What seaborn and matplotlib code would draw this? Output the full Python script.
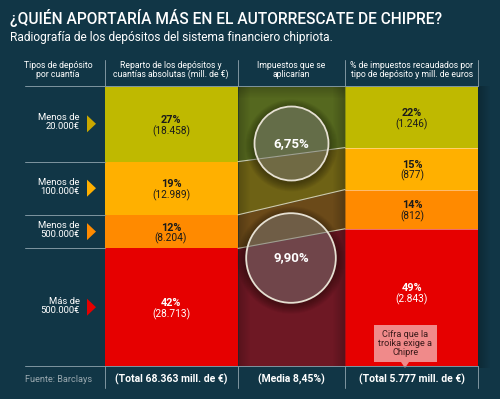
import numpy as np
import pandas as pd
import matplotlib.pyplot as plt
import seaborn as sns
from matplotlib.patches import Circle, Polygon

sns.set_theme(style="white")
plt.rcParams['font.family'] = ['Roboto', 'DejaVu Sans']

# data
tramos = ['Menos de\n20.000€', 'Menos de\n100.000€', 'Menos de\n500.000€', 'Más de\n500.000€']
reparto_pct = [27, 19, 12, 42]
reparto_abs = ['18.458', '12.989', '8.204', '28.713']
recaudado_pct = [22, 15, 14, 49]
recaudado_abs = ['1.246', '877', '812', '2.843']
impuestos = ['6,75%', '9,90%']
impuestos_val = [6.75, 9.90]

colores = ['#bfb900', '#ffb000', '#ff8a00', '#e60000']
colores_osc = ['#55681f', '#6e6215', '#6b4a19', '#6e1824']
flechas = ['#c9a800', '#ffb000', '#ff8a00', '#e60000']
bg = '#113646'

df = pd.DataFrame({'tramo': tramos, 'reparto': reparto_pct, 'recaudado': recaudado_pct})
df['rep_fin'] = df['reparto'].cumsum()
df['rep_ini'] = df['rep_fin'] - df['reparto']
df['rec_fin'] = df['recaudado'].cumsum()
df['rec_ini'] = df['rec_fin'] - df['recaudado']

fig = plt.figure(figsize=(5, 3.99), dpi=100, facecolor=bg)

# pixel overlay axes for the decoration
ov = fig.add_axes([0, 0, 1, 1], zorder=0)
ov.set_xlim(0, 500)
ov.set_ylim(399, 0)
ov.axis('off')
ov.set_facecolor(bg)

# chart area: x in pixels, y in percent
ax = fig.add_axes([105 / 500, 1 - 366 / 399, 373 / 500, 280 / 399], zorder=1)
ax.set_xlim(105, 478)
ax.set_ylim(100, 0)
ax.axis('off')
ax.patch.set_alpha(0)

# shadow on the right
for i in range(12):
    ov.add_patch(plt.Rectangle((478 + i, 86), 1, 282, color='black', alpha=0.03 * (12 - i) / 1.5, lw=0))

# column 1: reparto de los depositos
ax.bar(105, df['reparto'], bottom=df['rep_ini'], width=133, align='edge', color=colores, lw=0)
# column 3: recaudado
ax.bar(345, df['recaudado'], bottom=df['rec_ini'], width=133, align='edge', color=colores, lw=0)

# middle column: bands connecting both
for i, r in df.iterrows():
    ax.fill_between([238, 345], [r['rep_ini'], r['rec_ini']], [r['rep_fin'], r['rec_fin']],
                    color=colores_osc[i], lw=0)
for i, r in df.iloc[:-1].iterrows():
    ax.plot([238, 345], [r['rep_fin'], r['rec_fin']], color='#e8e4d0', lw=0.8, alpha=0.8)
    ax.plot([345, 478], [r['rec_fin'], r['rec_fin']], color='#ffffff', lw=0.6, alpha=0.5)

# edge shading in middle column
for i in range(12):
    a = 0.2 * (12 - i) / 12
    ax.fill_between([238 + i, 239 + i], 0, 100, color='black', alpha=a, lw=0)
    ax.fill_between([344 - i, 345 - i], 0, 100, color='black', alpha=a, lw=0)
    ax.fill_between([238, 345], i * 0.36, (i + 1) * 0.36, color='black', alpha=a, lw=0)

# overlay on top of the chart for texts
top = fig.add_axes([0, 0, 1, 1], zorder=2)
top.set_xlim(0, 500)
top.set_ylim(399, 0)
top.axis('off')
top.patch.set_alpha(0)

# circles with tax rates
centros = [(291.5, 143.5), (291, 258)]
r0 = 37 / np.sqrt(impuestos_val[0])
for (cx, cy), v, t in zip(centros, impuestos_val, impuestos):
    rad = r0 * np.sqrt(v)
    for k in range(9):
        top.add_patch(Circle((cx, cy + 2), rad + 9 - k, color='black', alpha=0.045, lw=0))
    top.add_patch(Circle((cx, cy), rad, facecolor=(1, 1, 1, 0.23), edgecolor='#e6e0d2', lw=1.3))
    top.text(cx, cy, t, color='white', fontsize=9.5, fontweight='bold', ha='center', va='center')

# titles
top.text(10, 18, '¿QUIÉN APORTARÍA MÁS EN EL AUTORRESCATE DE CHIPRE?', color='white',
         fontsize=11.2, fontweight='medium', va='center', ha='left')
top.text(10, 37, 'Radiografía de los depósitos del sistema financiero chipriota.', color='white',
         fontsize=8.6, va='center', ha='left')

# headers
cabeceras = ['Tipos de depósito\npor cuantía', 'Reparto de los depósitos y\ncuantías absolutas (mill. de €)',
             'Impuestos que se\naplicarían', '% de impuestos recaudados por\ntipo de depósito y mill. de euros']
cab_x = [58, 171, 291, 412]
for x, t in zip(cab_x, cabeceras):
    top.text(x, 70, t, color='white', fontsize=6.2, ha='center', va='center', linespacing=0.95)
for x in [105, 238, 345, 478]:
    top.plot([x, x], [60, 86], color='#7f95a0', lw=0.7)
    top.plot([x, x], [366, 388], color='#7f95a0', lw=0.7)
top.plot([25, 478], [86, 86], color='#7f95a0', lw=0.7)
top.plot([25, 478], [366, 366], color='#7f95a0', lw=0.7)

# row labels and arrows
for i, r in df.iterrows():
    yc = 86 + 2.8 * (r['rep_ini'] + r['rep_fin']) / 2
    top.text(80, yc - 1.5, r['tramo'], color='white', fontsize=6.8, ha='right', va='center', linespacing=0.95)
    top.add_patch(Polygon([[87, yc - 8.5], [87, yc + 8.5], [96, yc]], closed=True, color=flechas[i], lw=0))
    if i < 3:
        yb = 86 + 2.8 * r['rep_fin']
        top.plot([25, 105], [yb, yb], color='#7f95a0', lw=0.7)

# values in columns
for i, r in df.iterrows():
    c = 'white' if i == 3 else '#1a1a1a'
    y1 = 86 + 2.8 * (r['rep_ini'] + r['rep_fin']) / 2
    top.text(171, y1 - 4, f"{r['reparto']}%", color=c, fontsize=7.8, fontweight='bold', ha='center', va='center')
    top.text(171, y1 + 7, f"({reparto_abs[i]})", color=c, fontsize=7.3, ha='center', va='center')
    y3 = 86 + 2.8 * (r['rec_ini'] + r['rec_fin']) / 2
    if i == 3:
        y3 = 292
    top.text(412, y3 - 4, f"{r['recaudado']}%", color=c, fontsize=7.8, fontweight='bold', ha='center', va='center')
    top.text(412, y3 + 7, f"({recaudado_abs[i]})", color=c, fontsize=7.3, ha='center', va='center')

# annotation box
top.add_patch(plt.Rectangle((374, 325), 63, 37, facecolor='#f08a8a', edgecolor='none'))
top.add_patch(Polygon([[401, 362], [409, 362], [405, 368]], closed=True, color='#f08a8a', lw=0))
top.text(405.5, 343.5, 'Cifra que la\ntroika exige a\nChipre', color='#3a1a1a', fontsize=6.6,
         ha='center', va='center', linespacing=0.95)

# footer
top.text(25, 379, 'Fuente: Barclays', color='#9aa9b0', fontsize=6.6, ha='left', va='center')
top.text(171, 379, '(Total 68.363 mill. de €)', color='white', fontsize=7.5, fontweight='bold', ha='center', va='center')
top.text(291.5, 379, '(Media 8,45%)', color='white', fontsize=7.5, fontweight='bold', ha='center', va='center')
top.text(412, 379, '(Total 5.777 mill. de €)', color='white', fontsize=7.5, fontweight='bold', ha='center', va='center')

fig.savefig('out.png', dpi=100, facecolor=bg)
